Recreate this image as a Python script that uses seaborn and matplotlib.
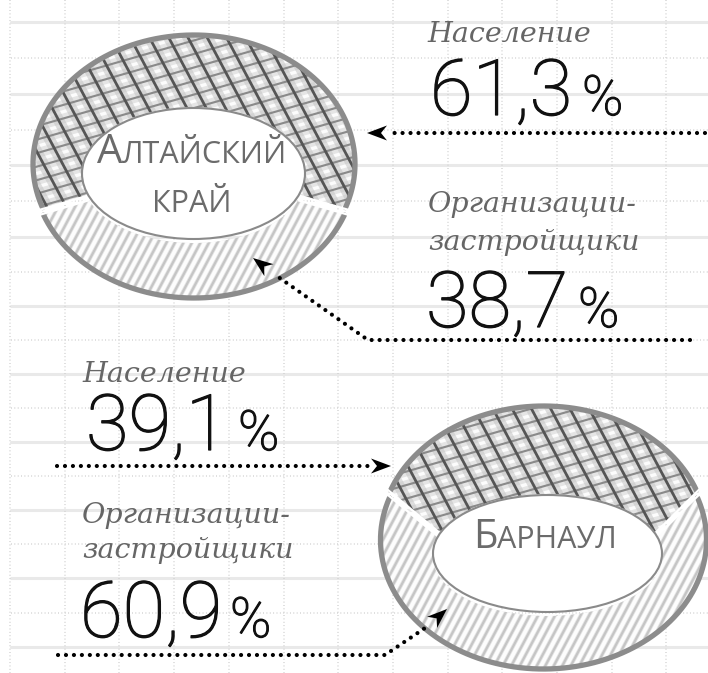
import numpy as np
import matplotlib
matplotlib.use("Agg")
import matplotlib.pyplot as plt
import matplotlib.patheffects as pe
import seaborn as sns
from matplotlib.patches import Polygon, Ellipse
from matplotlib.collections import LineCollection

# data
regions = ["Алтайский край", "Барнаул"]
population_share = [61.3, 39.1]
developer_share = [38.7, 60.9]
share_labels = ["Население", "Организации-\nзастройщики"]

sns.set_theme(style="white")
plt.rcParams['font.family'] = ['DejaVu Sans']

fig = plt.figure(figsize=(7.08, 6.73), dpi=100)
ax = fig.add_axes([0, 0, 1, 1])
ax.set_xlim(0, 708)
ax.set_ylim(673, 0)
ax.axis('off')

# background grid (paper)
solid_y = [22, 94, 165, 237, 306, 374, 442, 510, 578, 647]
for i, y in enumerate(solid_y):
    ax.plot([11, 708], [y, y], color='#e9e9e9', lw=2.2, zorder=0)
    if i + 1 < len(solid_y):
        ym = (y + solid_y[i + 1]) / 2
        ax.plot([11, 708], [ym, ym], color='#d2d2d2', lw=1.1,
                linestyle=(0, (0.6, 1.6)), zorder=0)
for k in range(13):
    x = 10 + 54.7 * k
    ax.plot([x, x], [0, 673], color='#d2d2d2', lw=1.1,
            linestyle=(0, (0.6, 1.6)), zorder=0)

# donut geometry: outer (cx, cy, a, b), inner (cx, cy, a, b), lower explode
donuts = [
    dict(outer=(194, 165, 161, 129), inner=(193.5, 173.5, 111.5, 65.5), drop=4),
    dict(outer=(543.5, 536, 163, 129), inner=(547.5, 553.5, 114.5, 58.5), drop=4),
]


def ell(g, th, dy=0):
    cx, cy, a, b = g
    return np.column_stack([cx + a * np.cos(th), cy - b * np.sin(th) + dy])


def hatch(poly, angle, spacing, color, lw, alpha=1.0, shift=0.0, z=2):
    d = np.array([np.cos(np.radians(angle)), np.sin(np.radians(angle))])
    n = np.array([-d[1], d[0]])
    ext = poly.get_path().vertices
    c = ext.mean(axis=0)
    R = np.ptp(ext, axis=0).max()
    m = int(R / spacing) + 2
    segs = [[c + (k + shift) * spacing * n - R * d,
             c + (k + shift) * spacing * n + R * d]
            for k in range(-m, m + 1)]
    lc = LineCollection(segs, colors=color, linewidths=lw, alpha=alpha, zorder=z)
    ax.add_collection(lc)
    lc.set_clip_path(poly)


def segment(g, th1, th2, dy, kind):
    th = np.linspace(th1, th2, 200)
    pts = np.vstack([ell(g['outer'], th, dy), ell(g['inner'], th[::-1], dy)])
    face = '#fcfcfc' if kind == 'cross' else '#e6e6e6'
    poly = Polygon(pts, closed=True, facecolor=face, edgecolor='none', zorder=1)
    ax.add_patch(poly)
    if kind == 'cross':
        hatch(poly, 62, 17, '#b0b0b0', 8.0, 0.4)
        hatch(poly, -16, 13, '#c4c4c4', 7.0, 0.4)
        hatch(poly, -16, 13, '#8a8a8a', 1.5)
        hatch(poly, 62, 17, '#555555', 2.0)
    else:
        hatch(poly, -62, 7.5, '#ffffff', 2.6, 0.95)
        hatch(poly, -62, 7.5, '#bdbdbd', 1.6, 0.8, shift=0.5)
    # outer rim
    rim = ell(g['outer'], np.linspace(th1 + 0.01, th2 - 0.01, 200), dy)
    ax.plot(rim[:, 0], rim[:, 1], color='#8c8c8c', lw=3.8,
            solid_capstyle='round', zorder=3)
    # white gaps at the split
    for t in (th1, th2):
        p_in = ell(g['inner'], np.array([t]), dy)[0]
        p_out = ell(g['outer'], np.array([t]), dy)[0]
        v = p_out - p_in
        p_out = p_out + 0.12 * v
        ax.plot([p_in[0], p_out[0]], [p_in[1], p_out[1]], color='white',
                lw=1.6, zorder=4, solid_capstyle='butt')


for g, pop in zip(donuts, population_share):
    half = np.radians(pop / 100 * 180)
    top = np.pi / 2
    segment(g, top - half, top + half, -1, 'cross')
    segment(g, top + half, top + 2 * np.pi - half, g['drop'], 'stripe')
    cx, cy, a, b = g['inner']
    ax.add_patch(Ellipse((cx, cy), 2 * a, 2 * b, facecolor='white',
                         edgecolor='#8a8a8a', lw=1.5, zorder=5))

# center labels in small caps
fig.canvas.draw()
renderer = fig.canvas.get_renderer()
label_font = dict(family=['Open Sans', 'DejaVu Sans'], color='#6b6b6b',
                  va='baseline', zorder=6)


def smallcaps_line(x, y, word, first_big):
    parts = []
    if first_big:
        parts.append(ax.text(0, y, word[0].upper(), fontsize=29, **label_font))
        rest = word[1:].upper()
    else:
        rest = word.upper()
    parts.append(ax.text(0, y, rest, fontsize=22, **label_font))
    widths = [p.get_window_extent(renderer).width for p in parts]
    start = x - sum(widths) / 2
    for p, w in zip(parts, widths):
        p.set_x(start)
        start += w


center_pos = [(192, [163, 212]), (545, [548])]
for name, (x, ys) in zip(regions, center_pos):
    words = name.split()
    for i, (w, y) in enumerate(zip(words, ys)):
        smallcaps_line(x, y, w, i == 0)

# share labels and values
italic = dict(family=['DejaVu Serif'], style='italic', color='#666666',
              fontsize=20.5, va='baseline', zorder=6)
num = dict(family=['Roboto', 'DejaVu Sans'], fontweight=100, color='#111111',
           va='baseline', zorder=6,
           path_effects=[pe.withStroke(linewidth=0.9, foreground='#111111')])


def fmt(v):
    return f"{v:.1f}".replace(".", ",")


blocks = [
    # (label, value, label x, label baselines, value x, value baseline, pct x)
    (share_labels[0], population_share[0], 427, [42], 430, 115, 582),
    (share_labels[1], developer_share[0], 428, [212, 250], 426, 327, 578),
    (share_labels[0], population_share[1], 82, [382], 86, 450, 238),
    (share_labels[1], developer_share[1], 82, [523, 558], 80, 637, 230),
]
for lab, val, lx, lys, vx, vy, px in blocks:
    for line, ly in zip(lab.split("\n"), lys):
        ax.text(lx, ly, line, **italic)
    ax.text(vx, vy, fmt(val), fontsize=56, **num)
    ax.text(px, vy, "%", fontsize=40, **num)

# leader lines with arrowheads
dots = dict(color='black', lw=3.0, linestyle=(0, (0.01, 1.9)),
            dash_capstyle='round', zorder=7)


def head(tip, frm, length=20, width=15):
    tip = np.array(tip, float)
    d = tip - np.array(frm, float)
    d /= np.hypot(*d)
    n = np.array([-d[1], d[0]])
    base = tip - length * d
    pts = [tip, base + n * width / 2, tip - 0.7 * length * d, base - n * width / 2]
    ax.add_patch(Polygon(pts, closed=True, facecolor='black', edgecolor='none',
                         zorder=8))


leaders = [
    ([705, 388], [133, 133], (367, 133)),
    ([690, 368, 274], [340, 340, 274], (253, 258)),
    ([57, 371], [466, 466], (391, 466)),
    ([58, 385, 428], [655, 655, 626], (447, 609)),
]
for xs, ys, tip in leaders:
    ax.plot(xs, ys, **dots)
    head(tip, (xs[-1], ys[-1]))

fig.savefig("out.png", dpi=100)
